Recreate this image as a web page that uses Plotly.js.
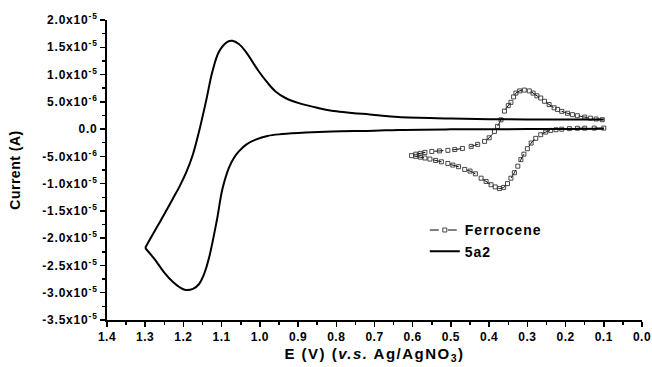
<!DOCTYPE html>
<html>
<head>
<meta charset="utf-8">
<script src="https://cdn.plot.ly/plotly-3.0.1.min.js"></script>
<style>
  html, body { margin: 0; padding: 0; background: #fff; }
  #chart { width: 652px; height: 367px; }
  .xtick text { letter-spacing: 0.5px; }
  .ytick text { letter-spacing: 0.8px; }
  .legendtext { letter-spacing: 1px; }
  .g-xtitle text { letter-spacing: 1.5px; }
  .g-ytitle text { letter-spacing: 0.5px; }
</style>
</head>
<body>
<div id="chart"></div>
<script>
// ---- 5a2 cyclic voltammogram (E in V, I in µA) ----
// forward (cathodic) branch: 0.1 V -> 1.3 V
const e5a2Fwd = [0.10, 0.20, 0.30, 0.40, 0.50, 0.638, 0.70, 0.812, 0.88, 0.942, 0.98, 1.011, 1.035, 1.055, 1.068, 1.081, 1.098, 1.113, 1.133, 1.146, 1.159, 1.175, 1.194, 1.21, 1.228, 1.25, 1.275, 1.30];
const i5a2Fwd = [0.05, 0.03, 0.0, -0.03, -0.05, -0.15, -0.3, -0.42, -0.62, -0.92, -1.25, -1.94, -2.8, -4.1, -5.3, -7.1, -11.0, -16.9, -23.6, -26.6, -28.4, -29.3, -29.5, -29.0, -28.0, -26.3, -23.9, -21.8];
// reverse (anodic) branch: 1.3 V -> 0.1 V
const e5a2Rev = [1.30, 1.289, 1.263, 1.228, 1.21, 1.193, 1.175, 1.159, 1.141, 1.124, 1.107, 1.085, 1.072, 1.055, 1.037, 1.003, 0.98, 0.959, 0.933, 0.898, 0.85, 0.812, 0.70, 0.638, 0.50, 0.40, 0.30, 0.20, 0.10];
const i5a2Rev = [-21.8, -20.4, -17.2, -12.8, -10.5, -8.0, -4.6, -0.4, 5.07, 10.6, 14.2, 16.0, 16.2, 15.6, 14.2, 10.6, 8.5, 6.9, 5.7, 4.76, 3.9, 3.37, 2.6, 2.2, 1.95, 1.82, 1.75, 1.75, 1.75];

// ---- Ferrocene cyclic voltammogram (E in V, I in µA) ----
const eFc = [0.100, 0.125, 0.150, 0.169, 0.190, 0.210, 0.225, 0.239, 0.252, 0.265, 0.278, 0.290, 0.300, 0.309, 0.317, 0.325, 0.334, 0.343, 0.352, 0.362, 0.373, 0.384, 0.395, 0.408, 0.421, 0.436, 0.450, 0.464, 0.480, 0.495, 0.508, 0.525, 0.540, 0.555, 0.568, 0.580, 0.592, 0.603,
             0.592, 0.580, 0.568, 0.550, 0.530, 0.508, 0.490, 0.470, 0.447, 0.430, 0.412, 0.400, 0.386, 0.378, 0.369, 0.360, 0.350, 0.343, 0.336, 0.330, 0.320, 0.308, 0.295, 0.285, 0.275, 0.265, 0.255, 0.243, 0.230, 0.221, 0.210, 0.195, 0.182, 0.169, 0.150, 0.135, 0.120, 0.104];
const iFc = [0.18, 0.18, 0.17, 0.15, 0.08, -0.02, -0.12, -0.24, -0.55, -1.03, -1.7, -2.56, -3.6, -4.6, -5.6, -6.8, -8.0, -9.0, -10.0, -10.7, -10.9, -10.6, -10.2, -9.6, -9.0, -8.2, -7.7, -7.4, -6.9, -6.6, -6.3, -6.0, -5.75, -5.5, -5.3, -5.15, -5.0, -4.87,
             -4.6, -4.45, -4.27, -4.1, -4.0, -3.9, -3.75, -3.55, -3.17, -2.8, -2.25, -1.6, -0.42, 0.5, 1.7, 3.3, 4.3, 4.9, 5.9, 6.6, 7.0, 7.15, 7.0, 6.6, 6.1, 5.7, 5.1, 4.5, 3.9, 3.6, 3.25, 2.9, 2.65, 2.45, 2.2, 2.0, 1.85, 1.72];

// ---- axis ticks ----
const yTickVals = [2.0e-5, 1.5e-5, 1.0e-5, 5.0e-6, 0, -5.0e-6, -1.0e-5, -1.5e-5, -2.0e-5, -2.5e-5, -3.0e-5, -3.5e-5];
const yTickText = ['2.0x10<sup>-5</sup>', '1.5x10<sup>-5</sup>', '1.0x10<sup>-5</sup>', '5.0x10<sup>-6</sup>', '0.0', '-5.0x10<sup>-6</sup>',
                   '-1.0x10<sup>-5</sup>', '-1.5x10<sup>-5</sup>', '-2.0x10<sup>-5</sup>', '-2.5x10<sup>-5</sup>', '-3.0x10<sup>-5</sup>', '-3.5x10<sup>-5</sup>'];
const xTickVals = [1.4, 1.3, 1.2, 1.1, 1.0, 0.9, 0.8, 0.7, 0.6, 0.5, 0.4, 0.3, 0.2, 0.1, 0.0];
const xTickText = ['1.4', '1.3', '1.2', '1.1', '1.0', '0.9', '0.8', '0.7', '0.6', '0.5', '0.4', '0.3', '0.2', '0.1', '0.0'];

const toA = arr => arr.map(v => v * 1e-6);
const FONT = 'Liberation Sans, Arial, Helvetica, sans-serif';
const line5a2 = { color: '#000', width: 2, shape: 'spline', smoothing: 1 };

const traces = [
  {
    x: eFc, y: toA(iFc), name: 'Ferrocene', type: 'scatter', mode: 'lines+markers',
    line: { color: '#000', width: 1, dash: 'dash', shape: 'spline', smoothing: 0.8 },
    marker: { symbol: 'square-open', size: 4, color: '#333', line: { width: 0.9, color: '#333' } }
  },
  {
    x: e5a2Fwd, y: toA(i5a2Fwd), name: '5a2', legendgroup: '5a2', type: 'scatter', mode: 'lines',
    line: line5a2
  },
  {
    x: e5a2Rev, y: toA(i5a2Rev), name: '5a2', legendgroup: '5a2', showlegend: false, type: 'scatter', mode: 'lines',
    line: line5a2
  }
];

const layout = {
  width: 652, height: 367,
  margin: { l: 107, r: 10, t: 20, b: 47, pad: 0 },
  paper_bgcolor: '#fff', plot_bgcolor: '#fff',
  font: { family: FONT, color: '#000', size: 12, weight: 'bold' },
  showlegend: true,
  legend: {
    x: 0.594, y: 0.352, xanchor: 'left', yanchor: 'top',
    bgcolor: 'rgba(0,0,0,0)', borderwidth: 0,
    font: { family: FONT, size: 14, color: '#000', weight: 'bold' },
    tracegroupgap: 0, itemwidth: 30
  },
  xaxis: {
    range: [1.4, 0.0], autorange: false,
    tickmode: 'array', tickvals: xTickVals, ticktext: xTickText,
    ticks: 'outside', ticklen: 5, tickwidth: 1.5, tickcolor: '#000',
    minor: { tickmode: 'linear', dtick: 0.05, tick0: 0, ticks: 'outside', ticklen: 3, tickwidth: 1.5, tickcolor: '#000' },
    showline: true, linecolor: '#000', linewidth: 2, mirror: false,
    showgrid: false, zeroline: false, ticklabeloverflow: 'allow',
    tickfont: { family: FONT, size: 12, color: '#000', weight: 'bold' },
    title: { text: 'E (V) (<i>v.s.</i> Ag/AgNO<sub>3</sub>)', font: { family: FONT, size: 15, color: '#000', weight: 'bold' }, standoff: 5 }
  },
  yaxis: {
    range: [-3.5e-5, 2.0e-5], autorange: false,
    tickmode: 'array', tickvals: yTickVals, ticktext: yTickText,
    ticks: 'outside', ticklen: 5, tickwidth: 1.5, tickcolor: '#000',
    minor: { tickmode: 'linear', dtick: 2.5e-6, tick0: 0, ticks: 'outside', ticklen: 3, tickwidth: 1.5, tickcolor: '#000' },
    showline: true, linecolor: '#000', linewidth: 2, mirror: false,
    showgrid: false, zeroline: false, ticklabeloverflow: 'allow',
    tickfont: { family: FONT, size: 12, color: '#000', weight: 'bold' },
    title: { text: 'Current (A)', font: { family: FONT, size: 14, color: '#000', weight: 'bold' }, standoff: 18 }
  }
};

Plotly.newPlot('chart', traces, layout, { staticPlot: true, displayModeBar: false });
</script>
</body>
</html>
